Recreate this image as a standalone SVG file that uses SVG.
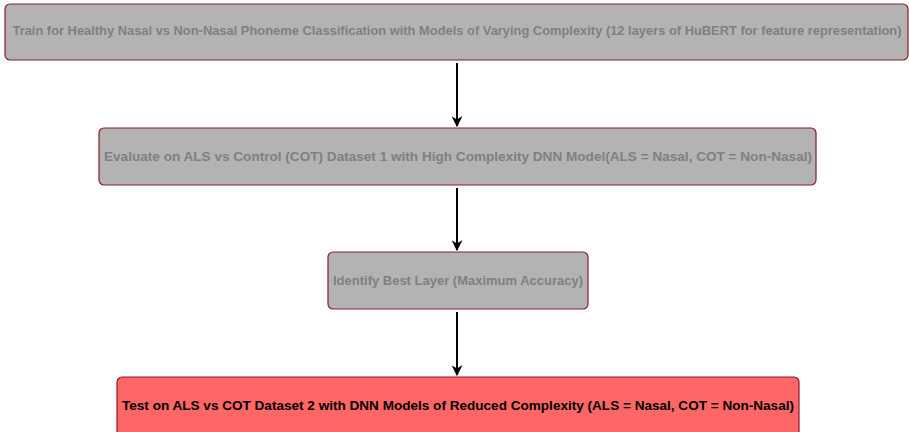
<svg xmlns="http://www.w3.org/2000/svg" width="909" height="432" viewBox="0 0 909 432">
<style>
.box{stroke:#8c1c2c;stroke-width:1.2}
.g{fill:#b3b3b3}
.r{fill:#ff6666}
.t{font-family:"Liberation Sans","DejaVu Sans",sans-serif;font-weight:bold;font-size:12.5px;text-anchor:middle;dominant-baseline:central}
.tg{fill:#808080}
.tb{fill:#000000}
.c{stroke:#000;stroke-width:2;fill:none;marker-end:url(#ah)}
</style>
<defs>
<marker id="ah" viewBox="0 0 10 10" refX="9" refY="5" markerWidth="5.5" markerHeight="5.5" orient="auto" markerUnits="strokeWidth">
<path d="M0,0 L10,5 L0,10 L3,5 Z" fill="#000"/>
</marker>
</defs>
<g id="node1">
<rect class="box g" x="5" y="4" width="903" height="56" rx="5"/>
<text class="t tg" x="457" y="31" textLength="889" lengthAdjust="spacingAndGlyphs">Train for Healthy Nasal vs Non-Nasal Phoneme Classification with Models of Varying Complexity (12 layers of HuBERT for feature representation)</text>
</g>
<g id="node2">
<rect class="box g" x="99" y="128" width="717" height="57" rx="5"/>
<text class="t tg" x="458" y="157" textLength="708" lengthAdjust="spacingAndGlyphs">Evaluate on ALS vs Control (COT) Dataset 1 with High Complexity DNN Model(ALS = Nasal, COT = Non-Nasal)</text>
</g>
<g id="node3">
<rect class="box g" x="328" y="252" width="260" height="57" rx="5"/>
<text class="t tg" x="458" y="281" textLength="250" lengthAdjust="spacingAndGlyphs">Identify Best Layer (Maximum Accuracy)</text>
</g>
<g id="node4">
<rect class="box r" x="117" y="377" width="682" height="60" rx="5"/>
<text class="t tb" x="458" y="406" textLength="672" lengthAdjust="spacingAndGlyphs">Test on ALS vs COT Dataset 2 with DNN Models of Reduced Complexity (ALS = Nasal, COT = Non-Nasal)</text>
</g>
<g id="connectors">
<line class="c" x1="457" y1="63" x2="457" y2="126"/>
<line class="c" x1="457" y1="188" x2="457" y2="250"/>
<line class="c" x1="457" y1="312" x2="457" y2="375"/>
</g>
</svg>
